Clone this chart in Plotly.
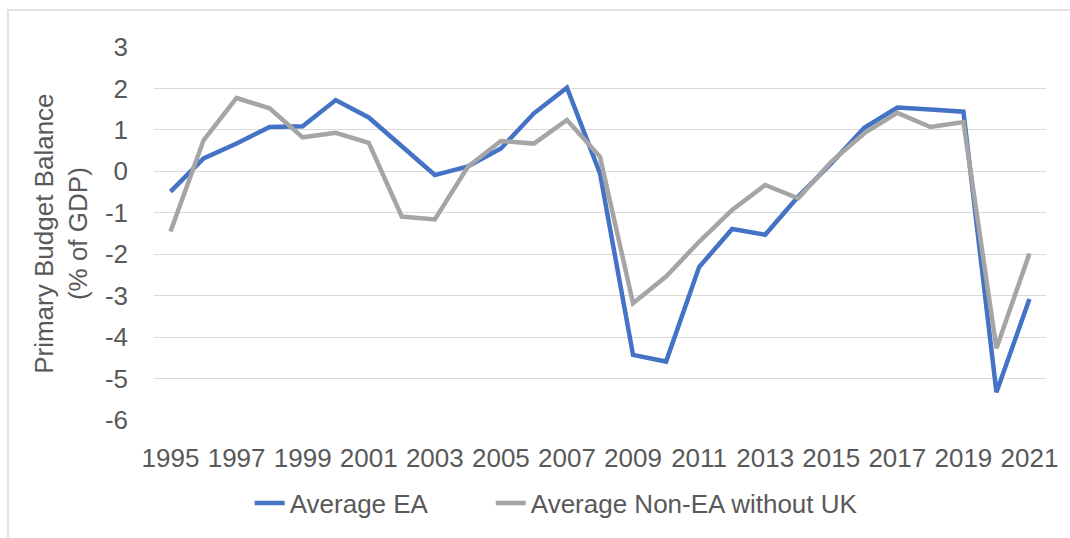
import plotly.graph_objects as go

years = list(range(1995, 2022))
avg_ea = [-0.49, 0.31, 0.67, 1.07, 1.09, 1.72, 1.30, 0.61, -0.09, 0.12, 0.55, 1.40, 2.02, -0.05,
          -4.43, -4.59, -2.31, -1.39, -1.53, -0.61, 0.19, 1.05, 1.54, 1.49, 1.44, -5.33, -3.08]
avg_non_ea = [-1.45, 0.75, 1.77, 1.52, 0.82, 0.93, 0.69, -1.09, -1.16, 0.11, 0.73, 0.67, 1.24, 0.35,
              -3.18, -2.54, -1.70, -0.93, -0.33, -0.65, 0.23, 0.92, 1.41, 1.07, 1.19, -4.27, -1.98]
tick_years = list(range(1995, 2022, 2))
y_ticks = list(range(-6, 4))
series_names = ["Average EA", "Average Non-EA without UK"]

FONT = "Liberation Sans"
TXT = "#595959"
W, H = 1070, 538
ML, MR, MT, MB = 154, 21, 47, 118
PW, PH = W - ML - MR, H - MT - MB

def px_x(p):
    return (p - ML) / PW

def px_y(p):
    return (H - MB - p) / PH

fig = go.Figure()
fig.add_trace(go.Scatter(x=years, y=avg_ea, mode="lines", name=series_names[0] + "\u00a0" * 8,
                         line=dict(color="#4472C4", width=4.5)))
fig.add_trace(go.Scatter(x=years, y=avg_non_ea, mode="lines", name=series_names[1],
                         line=dict(color="#A5A5A5", width=4.5)))

fig.update_layout(
    width=W, height=H,
    margin=dict(l=ML, r=MR, t=MT, b=MB),
    paper_bgcolor="white", plot_bgcolor="white",
    font=dict(family=FONT, size=26, color=TXT),
    showlegend=True,
    legend=dict(orientation="h", x=px_x(250), xanchor="left", y=px_y(503), yanchor="middle",
                font=dict(family=FONT, size=26, color=TXT), itemwidth=30, tracegroupgap=0,
                bgcolor="rgba(0,0,0,0)"),
)
fig.update_xaxes(range=[1994.5, 2021.5], tickmode="array", tickvals=tick_years,
                 ticktext=[str(y) for y in tick_years], showgrid=False, zeroline=False,
                 showline=False, ticks="", ticklabelstandoff=20,
                 tickfont=dict(family=FONT, size=26, color=TXT))
fig.update_yaxes(range=[-6, 3], tickmode="array", tickvals=y_ticks,
                 ticktext=[str(v) for v in y_ticks], showgrid=True, gridcolor="#D9D9D9",
                 gridwidth=1.3, zeroline=False, showline=False, ticks="", ticklabelstandoff=25,
                 tickfont=dict(family=FONT, size=26, color=TXT))

fig.add_annotation(xref="paper", yref="paper", x=px_x(60), y=0.5, xanchor="center",
                   yanchor="middle", textangle=-90, showarrow=False,
                   text="Primary Budget Balance<br>(% of GDP)",
                   font=dict(family=FONT, size=26, color=TXT))

fig.add_shape(type="rect", xref="paper", yref="paper",
              x0=px_x(7.5), x1=px_x(1080), y0=px_y(545), y1=px_y(10),
              line=dict(color="#D9D9D9", width=1.5), fillcolor="rgba(0,0,0,0)", layer="below")

fig.write_html("out.html")
